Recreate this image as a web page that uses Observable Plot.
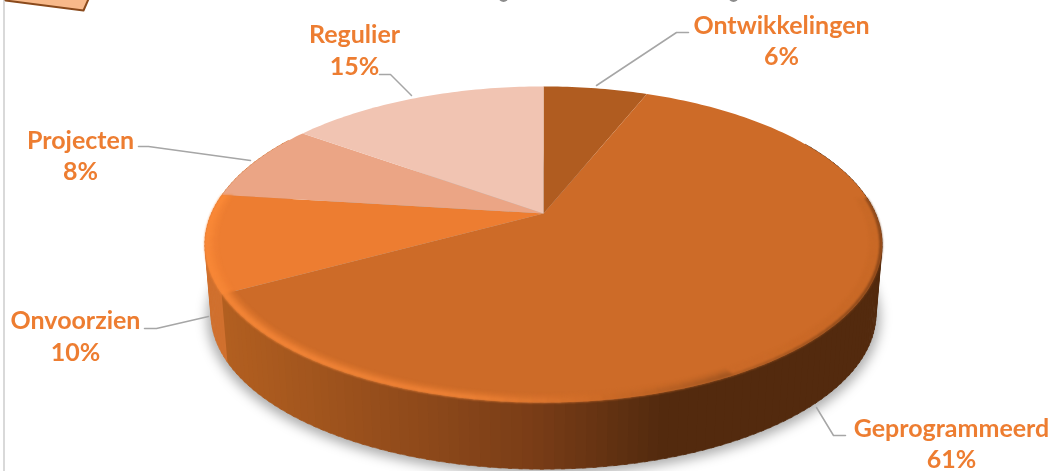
<!DOCTYPE html>
<html><head><meta charset="utf-8">
<script src="https://cdn.jsdelivr.net/npm/d3@7"></script>
<script src="https://cdn.jsdelivr.net/npm/@observablehq/plot@0.6"></script>
<style>
html,body{margin:0;padding:0;background:#fff}
.shadow{filter:blur(6px)}
.soft{filter:blur(1.1px)}
.crisp{filter:blur(.35px)}
</style></head><body><div id="c"></div>
<script>
// Data
const categories = ["Ontwikkelingen","Geprogrammeerd","Onvoorzien","Projecten","Regulier"];
const values = [6,61,10,8,15];
const sliceColors = ["#b05c20","#cd6b28","#ed7d31","#eba585","#f1c4b2"];

// Perspective disc layout (pixels)
const W=1056,H=471, cx=543, cy=213, Rx=332, Ry=152, k=0.196, depth=70, shrink=0.982;
const rad=d=>d*Math.PI/180;
function proj(deg,r=1,off=0,s=1){
  const X=Math.sin(rad(deg))*r, Z=-Math.cos(rad(deg))*r, w=1-k*Z;
  return {x:cx+s*Rx*X/w, y:cy+off+s*Ry*Z/w};
}
const range=(a,b,st=1)=>{const o=[];const n=Math.max(1,Math.ceil(Math.abs(b-a)/st));for(let i=0;i<=n;i++)o.push(a+(b-a)*i/n);return o;};

// slice angle extents from values
const total=d3.sum(values);
let acc=0;
const slices=categories.map((name,i)=>{const a0=acc/total*360;acc+=values[i];return {name,value:values[i],a0,a1:acc/total*360,color:sliceColors[i]};});

// top surface
const topPts=slices.flatMap(s=>[{...proj(0,0),id:s.name,fill:s.color},...range(s.a0,s.a1).map(a=>({...proj(a),id:s.name,fill:s.color}))]);

// side wall
const sideCol=d3.scaleLinear().domain([222,528,660,1056]).range(["#b25f20","#7a3d17","#532a0e","#532a0e"]).clamp(true);
const onv=slices[2], geo=slices[1];
const sidePts=range(60,300,1.5).flatMap((a,i)=>{
  const b=a+2, p=proj(a), q=proj(b), m=proj(a+1);
  const fill=a>=geo.a1-1?"#d0702e":sideCol(m.x);
  return [p,q,proj(b,1,depth,shrink),proj(a,1,depth,shrink)].map(d=>({...d,id:"s"+i,fill}));
});

// bottom disc shadow
const shadowPts=range(0,360,3).map(a=>({...proj(a,1.012,depth+3,shrink),id:"sh"}));

// bevel band along the front rim
const rimStops=d3.scaleLinear().domain([95,128,150,172,190,onv.a1]).range(["#5a2d10","#6a3612","#9a521f","#cd6b28","#ee8236","#fb8a38"]).clamp(true);
const rings=[[1,.992,1],[.992,.983,.85],[.983,.974,.55],[.974,.965,.22]];
const bevelPts=[];
rings.forEach(([ro,ri,t],j)=>{
  range(84,onv.a1,2).forEach((a,i)=>{
    const b=Math.min(a+2.5,onv.a1);
    if(a>=b) return;
    const base=a+1>geo.a1?onv.color:geo.color;
    const dark=a<150;
    const tt=dark?(j<1?.7:.04):t;
    const fill=d3.interpolateRgb(base,rimStops(a+1))(tt);
    [proj(a,ro),proj(b,ro),proj(b,ri),proj(a,ri)].forEach(d=>bevelPts.push({...d,id:`b${j}-${i}`,fill}));
  });
});

// Leader lines and labels (pixel layout)
const labelLayout={
  Ontwikkelingen:{tx:781,ty:39,leader:[[596,85],[676,32],[688,32]]},
  Geprogrammeerd:{tx:951,ty:442,leader:[[816,407],[833,435],[845,435]]},
  Onvoorzien:{tx:75,ty:334.5,leader:[[208,316],[156,328],[144,328]]},
  Projecten:{tx:80,ty:154,leader:[[250,160],[148,146],[138,146]]},
  Regulier:{tx:354,ty:48.5,leader:[[411,95],[390,74],[379,74]]}
};
const leaderPts=categories.flatMap(n=>labelLayout[n].leader.map(([x,y])=>({x,y,id:n})));
const labelRows=slices.map(s=>({x:labelLayout[s.name].tx,y:labelLayout[s.name].ty,text:`${s.name}\n${s.value}%`}));

// Fragments at the picture's edge
const edgeRule=[{x:3.5}];
const calloutPts=[[0,-6],[90,-6],[83,10],[5,0]].map(([x,y])=>({x,y}));
const titleDescenders=[{x:503},{x:733}];

const plot=Plot.plot({
  width:W,height:H,margin:0,
  x:{domain:[0,W],range:[0,W],axis:null},
  y:{domain:[0,H],range:[0,H],axis:null},
  color:{type:"identity"},
  style:{background:"#fff"},
  marks:[
    Plot.ruleX(edgeRule,{x:"x",stroke:"#d9d9d9",strokeWidth:2}),
    Plot.line(calloutPts,{x:"x",y:"y",fill:"#f8b98a",stroke:"#8a4a1c",strokeWidth:2,className:"crisp"}),
    Plot.dot(titleDescenders,{x:"x",y:()=>-3.5,r:5,fill:"#8c8c8c",stroke:"none"}),
    Plot.line(shadowPts,{x:"x",y:"y",z:"id",fill:"#000",fillOpacity:.32,stroke:"none",className:"shadow"}),
    Plot.line(sidePts,{x:"x",y:"y",z:"id",fill:"fill",stroke:"fill",strokeWidth:.6}),
    Plot.line(topPts,{x:"x",y:"y",z:"id",fill:"fill",stroke:"none",className:"crisp"}),
    Plot.line(bevelPts,{x:"x",y:"y",z:"id",fill:"fill",stroke:"fill",strokeWidth:.5,className:"soft"}),
    Plot.line(leaderPts,{x:"x",y:"y",z:"id",stroke:"#a6a6a6",strokeWidth:1.5,className:"crisp"}),
    Plot.text(labelRows,{x:"x",y:"y",text:"text",fill:"#ed7d31",fontFamily:"Lato",fontWeight:700,fontSize:25,lineHeight:1.26,lineAnchor:"middle",textAnchor:"middle",className:"crisp"})
  ]
});
document.getElementById("c").appendChild(plot);
</script></body></html>
